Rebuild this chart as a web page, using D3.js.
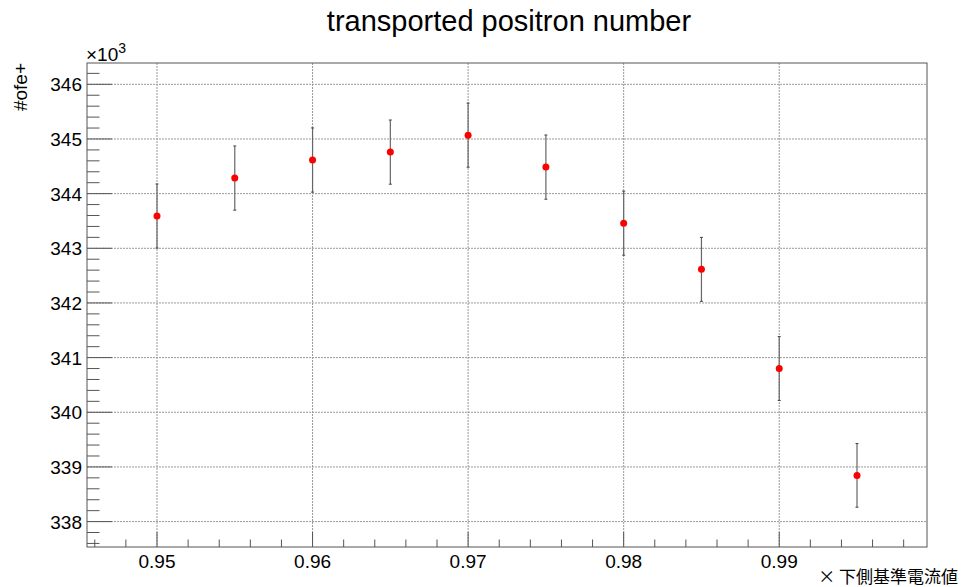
<!DOCTYPE html>
<html>
<head>
<meta charset="utf-8">
<script src="https://cdn.jsdelivr.net/npm/d3@7"></script>
<style>
  body { margin: 0; background: #fff; }
  text { font-family: "Liberation Sans", Arial, sans-serif; fill: #000; }
</style>
</head>
<body>
<svg width="964" height="587"></svg>
<script>
// data
var xValues = [0.95, 0.955, 0.96, 0.965, 0.97, 0.975, 0.98, 0.985, 0.99, 0.995]
var yValues = [343590, 344285, 344615, 344760, 345070, 344485, 343460, 342615, 340800, 338845]
var yErrors = [586, 587, 587, 587, 587, 587, 586, 585, 584, 582]
var xTickLabels = [0.95, 0.96, 0.97, 0.98, 0.99]
var yTickLabels = [338, 339, 340, 341, 342, 343, 344, 345, 346]

var svg = d3.select("svg")
var frameLeft = 87, frameRight = 927, frameTop = 63, frameBottom = 547

var xScale = d3.scaleLinear()
    .domain([0.9455, 0.9995])
    .range([frameLeft, frameRight])
var yScale = d3.scaleLinear()
    .domain([337535, 346390])
    .range([frameBottom, frameTop])

// grid
svg.append('g').selectAll('line')
    .data(xTickLabels)
    .enter()
    .append('line')
    .attr('x1', d => xScale(d)).attr('x2', d => xScale(d))
    .attr('y1', frameTop).attr('y2', frameBottom)
    .style('stroke', '#999')
    .style('stroke-dasharray', '2,1')
    .style('stroke-width', 1)
svg.append('g').selectAll('line')
    .data(yTickLabels)
    .enter()
    .append('line')
    .attr('x1', frameLeft).attr('x2', frameRight)
    .attr('y1', d => yScale(d * 1000)).attr('y2', d => yScale(d * 1000))
    .style('stroke', '#999')
    .style('stroke-dasharray', '2,1')
    .style('stroke-width', 1)

// frame
svg.append('rect')
    .attr('x', frameLeft).attr('y', frameTop)
    .attr('width', frameRight - frameLeft).attr('height', frameBottom - frameTop)
    .style('fill', 'none')
    .style('stroke', '#555')
    .style('stroke-width', 1)

// x axis ticks
var xMinor = d3.range(0.946, 0.9995, 0.002)
svg.append('g').selectAll('line')
    .data(xMinor)
    .enter()
    .append('line')
    .attr('x1', d => xScale(d)).attr('x2', d => xScale(d))
    .attr('y1', frameBottom)
    .attr('y2', d => Math.abs(Math.round(d * 1000) % 10) == 0 ? frameBottom - 15 : frameBottom - 7.5)
    .style('stroke', '#555')
svg.append('g').selectAll('text')
    .data(xTickLabels)
    .enter()
    .append('text')
    .attr('x', d => xScale(d))
    .attr('y', 568)
    .attr('text-anchor', 'middle')
    .style('font-size', '19px')
    .text(d => d.toFixed(2))

// y axis ticks
var yMinor = d3.range(337600, 346390, 200)
svg.append('g').selectAll('line')
    .data(yMinor)
    .enter()
    .append('line')
    .attr('x1', frameLeft)
    .attr('x2', d => Math.round(d) % 1000 == 0 ? frameLeft + 25 : frameLeft + 12.5)
    .attr('y1', d => yScale(d)).attr('y2', d => yScale(d))
    .style('stroke', '#555')
svg.append('g').selectAll('text')
    .data(yTickLabels)
    .enter()
    .append('text')
    .attr('x', frameLeft - 5)
    .attr('y', d => yScale(d * 1000) + 7)
    .attr('text-anchor', 'end')
    .style('font-size', '19px')
    .text(d => d)

// x10^3
var mult = svg.append('text')
    .attr('x', 86)
    .attr('y', 61)
    .style('font-size', '19px')
    .text('×10')
mult.append('tspan')
    .attr('dy', -8)
    .style('font-size', '14px')
    .text('3')

// title
svg.append('text')
    .attr('x', (frameLeft + frameRight) / 2 + 2)
    .attr('y', 31)
    .attr('text-anchor', 'middle')
    .style('font-size', '29px')
    .text('transported positron number')

// axis labels
svg.append('text')
    .attr('text-anchor', 'end')
    .attr('transform', 'translate(27,63)rotate(-90)')
    .style('font-size', '19px')
    .text('#ofe+')
svg.append('text')
    .attr('x', 958)
    .attr('y', 583)
    .attr('text-anchor', 'end')
    .style('font-family', '"Noto Sans CJK JP", sans-serif')
    .style('font-size', '17px')
    .text('× 下側基準電流値')

// error bars
var points = xValues.map((x, i) => ({x: x, y: yValues[i], e: yErrors[i]}))
svg.append('g').selectAll('line')
    .data(points)
    .enter()
    .append('line')
    .attr('x1', d => xScale(d.x)).attr('x2', d => xScale(d.x))
    .attr('y1', d => yScale(d.y - d.e)).attr('y2', d => yScale(d.y + d.e))
    .style('stroke', '#666')
    .style('stroke-width', 1.2)
svg.append('g').selectAll('path')
    .data(points)
    .enter()
    .append('path')
    .attr('d', d => 'M' + (xScale(d.x) - 1.5) + ',' + yScale(d.y - d.e) + 'h3M' + (xScale(d.x) - 1.5) + ',' + yScale(d.y + d.e) + 'h3')
    .style('stroke', '#444')
    .style('stroke-width', 1)

// markers
svg.append('g').selectAll('circle')
    .data(points)
    .enter()
    .append('circle')
    .attr('cx', d => xScale(d.x))
    .attr('cy', d => yScale(d.y))
    .attr('r', 3.5)
    .style('fill', '#f00')
</script>
</body>
</html>
